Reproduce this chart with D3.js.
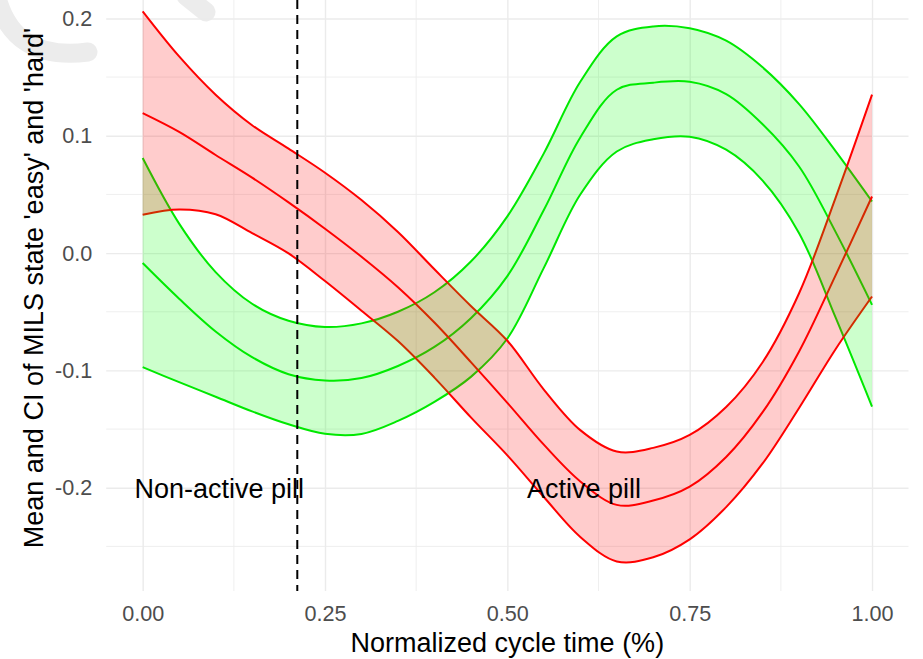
<!DOCTYPE html>
<html>
<head>
<meta charset="utf-8">
<script src="https://cdn.jsdelivr.net/npm/d3@7"></script>
<style>
  body { margin: 0; background: #fff; }
  svg { display: block; }
</style>
</head>
<body>
<script>
// normalized cycle time, sampled every 0.05
const cycleTime = [0, 0.05, 0.1, 0.15, 0.2, 0.25, 0.3, 0.35, 0.4, 0.45, 0.5,
                   0.55, 0.6, 0.65, 0.7, 0.75, 0.8, 0.85, 0.9, 0.95, 1];

// red band
const hardUpper = [0.206, 0.1676, 0.135, 0.109, 0.089, 0.0685, 0.0452, 0.018, -0.0138, -0.0451, -0.0747,
                   -0.1163, -0.1509, -0.1691, -0.166, -0.155, -0.1312, -0.093, -0.0342, 0.0471, 0.135];
const hardMean  = [0.1193, 0.1033, 0.0836, 0.0643, 0.0432, 0.0208, -0.0031, -0.0291, -0.0592, -0.0929, -0.1276,
                   -0.1633, -0.1946, -0.2146, -0.2109, -0.1991, -0.1738, -0.1356, -0.0838, -0.019, 0.0482];
const hardLower = [0.0327, 0.0372, 0.0331, 0.017, -0.0003, -0.0238, -0.0491, -0.075, -0.1061, -0.14, -0.1724,
                   -0.2079, -0.2419, -0.2628, -0.2593, -0.244, -0.2165, -0.1793, -0.132, -0.0819, -0.037];

// green band
const easyUpper = [0.081, 0.0251, -0.0162, -0.0432, -0.0577, -0.063, -0.0599, -0.05, -0.0334, -0.0072, 0.0313,
                   0.085, 0.146, 0.1847, 0.1932, 0.1916, 0.181, 0.1583, 0.127, 0.0869, 0.044];
const easyMean  = [-0.0085, -0.0389, -0.0668, -0.0887, -0.1032, -0.1085, -0.1065, -0.0962, -0.08, -0.0555, -0.0196,
                   0.0367, 0.0986, 0.1392, 0.1452, 0.146, 0.1355, 0.1098, 0.0738, 0.0181, -0.0441];
const easyLower = [-0.0972, -0.11, -0.1224, -0.1349, -0.1459, -0.154, -0.1541, -0.143, -0.1268, -0.1055, -0.0728,
                   -0.0126, 0.0499, 0.0866, 0.097, 0.0992, 0.0881, 0.0618, 0.017, -0.0548, -0.1308];

const xTicks = [0, 0.25, 0.5, 0.75, 1];
const xMinor = [0.125, 0.375, 0.625, 0.875];
const yTicks = [-0.2, -0.1, 0, 0.1, 0.2];
const yMinor = [-0.25, -0.15, -0.05, 0.05, 0.15];

const pillSwitch = 0.212;
const labels = [
  { text: "Non-active pill", x: 0.105, y: -0.2 },
  { text: "Active pill", x: 0.605, y: -0.2 }
];

const width = 923, height = 659;
const pLeft = 106.2, pRight = 908.5, pTop = -15, pBottom = 591;

const svg = d3.select("body").append("svg")
    .attr("width", width)
    .attr("height", height)
    .style("font-family", "'Liberation Sans', Arial, sans-serif");

const x = d3.scaleLinear().domain([-0.05, 1.05]).range([pLeft, pRight]);
const y = d3.scaleLinear().domain([-0.288, 0.2285]).range([pBottom, pTop]);

// faint watermark in the corner
svg.append("g")
    .attr("fill", "none")
    .attr("stroke", "#ececec")
    .attr("stroke-linecap", "round")
    .selectAll("path")
    .data(["M -4 -6 Q 12 62 88 52", "M 186 -4 L 206 12"])
    .enter().append("path")
    .attr("d", d => d)
    .attr("stroke-width", 19);

// minor grid
svg.append("g").selectAll("line")
    .data(xMinor)
    .enter().append("line")
    .attr("x1", d => x(d)).attr("x2", d => x(d))
    .attr("y1", pTop).attr("y2", pBottom)
    .attr("stroke", "#ededed").attr("stroke-width", 0.9);

svg.append("g").selectAll("line")
    .data(yMinor)
    .enter().append("line")
    .attr("x1", pLeft).attr("x2", pRight)
    .attr("y1", d => y(d)).attr("y2", d => y(d))
    .attr("stroke", "#ededed").attr("stroke-width", 0.9);

// major grid + tick labels
const xAxis = svg.append("g")
    .attr("transform", `translate(0,${pBottom})`)
    .call(d3.axisBottom(x).tickValues(xTicks).tickFormat(d => d.toFixed(2))
      .tickSize(-(pBottom - pTop)).tickPadding(14.4));

const yAxis = svg.append("g")
    .attr("transform", `translate(${pLeft},0)`)
    .call(d3.axisLeft(y).tickValues(yTicks).tickFormat(d => d.toFixed(1))
      .tickSize(-(pRight - pLeft)).tickPadding(14));

[xAxis, yAxis].forEach(g => {
  g.select(".domain").remove();
  g.selectAll(".tick line").attr("stroke", "#ebebeb").attr("stroke-width", 1.4);
  g.selectAll(".tick text")
    .attr("fill", "#4d4d4d")
    .style("font-size", "21.6px")
    .style("font-family", "'Liberation Sans', Arial, sans-serif");
});

const rows = cycleTime.map((t, i) => ({
  t,
  hu: hardUpper[i], hm: hardMean[i], hl: hardLower[i],
  eu: easyUpper[i], em: easyMean[i], el: easyLower[i]
}));

const curve = d3.curveCatmullRom.alpha(0.5);

// lines first, ribbons are painted over them
const lineKeys = [
  ["eu", "#00e600"], ["em", "#00e600"], ["el", "#00e600"],
  ["hu", "#ff0000"], ["hm", "#ff0000"], ["hl", "#ff0000"]
];
svg.append("g").selectAll("path")
    .data(lineKeys)
    .enter().append("path")
    .attr("fill", "none")
    .attr("stroke", d => d[1])
    .attr("stroke-width", 2)
    .attr("d", d => d3.line().x(r => x(r.t)).y(r => y(r[d[0]])).curve(curve)(rows));

const ribbons = [
  ["eu", "el", "#00ff00"],
  ["hu", "hl", "#ff0000"]
];
svg.append("g").selectAll("path")
    .data(ribbons)
    .enter().append("path")
    .attr("fill", d => d[2])
    .attr("fill-opacity", 0.2)
    .attr("d", d => d3.area().x(r => x(r.t)).y0(r => y(r[d[1]])).y1(r => y(r[d[0]])).curve(curve)(rows));

// pill switch
svg.append("line")
    .attr("x1", x(pillSwitch)).attr("x2", x(pillSwitch))
    .attr("y1", pTop).attr("y2", pBottom)
    .attr("stroke", "#000")
    .attr("stroke-width", 2)
    .attr("stroke-dasharray", "9,6");

svg.append("g").selectAll("text")
    .data(labels)
    .enter().append("text")
    .attr("x", d => x(d.x))
    .attr("y", d => y(d.y) + 10)
    .attr("text-anchor", "middle")
    .style("font-size", "27px")
    .attr("fill", "#000")
    .text(d => d.text);

// axis titles
svg.append("text")
    .attr("x", (pLeft + pRight) / 2)
    .attr("y", 652)
    .attr("text-anchor", "middle")
    .style("font-size", "27px")
    .text("Normalized cycle time (%)");

svg.append("text")
    .attr("transform", `translate(43,${(pTop + pBottom) / 2}) rotate(-90)`)
    .attr("text-anchor", "middle")
    .style("font-size", "27px")
    .text("Mean and CI of MILS state 'easy' and 'hard'");
</script>
</body>
</html>
